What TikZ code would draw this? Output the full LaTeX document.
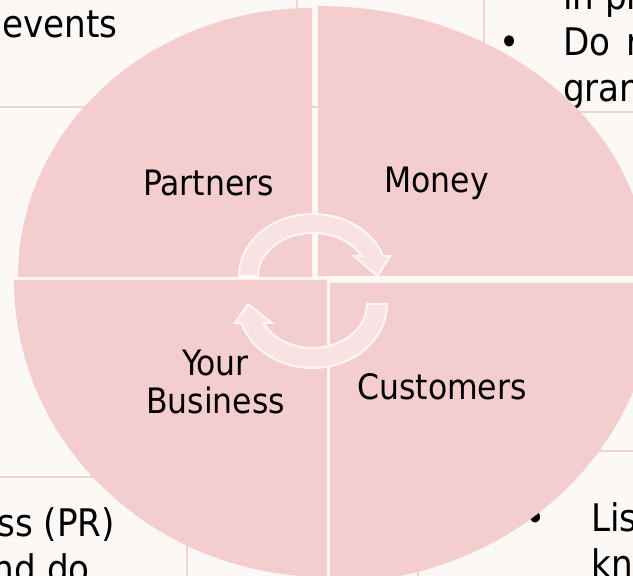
\documentclass[tikz,border=0pt]{standalone}
\usepackage{fontspec}
\newfontfamily\dvc{DejaVu Sans Condensed}
\definecolor{bgc}{RGB}{252,248,245}
\definecolor{piec}{RGB}{244,205,207}
\definecolor{arrc}{RGB}{248,226,228}
\definecolor{arrl}{RGB}{253,246,243}
\definecolor{gridc}{RGB}{243,210,210}
\tikzset{
  pie/.style={fill=piec},
  cyc/.style={fill=arrc, draw=arrl, line width=2pt, line join=miter},
  gridline/.style={draw=gridc, line width=2pt},
  lbl/.style={font=\dvc\fontsize{35}{38}\selectfont, text=black, inner sep=0pt, align=center},
  body/.style={font=\dvc\fontsize{38}{46}\selectfont, text=black, inner sep=0pt}
}
\begin{document}
\begin{tikzpicture}[x=1pt,y=1pt]
\useasboundingbox (0,0) rectangle (633,576);
\fill[bgc] (0,0) rectangle (633,576);
\clip (0,0) rectangle (633,576);
% background table lines
\draw[gridline] (0,469) -- (320,469);
\draw[gridline] (297,576) -- (297,540);
\draw[gridline] (484,576) -- (484,500);
\draw[gridline] (540,464) -- (633,464);
\draw[gridline] (0,99) -- (160,99);
\draw[gridline] (187,60) -- (187,0);
\draw[gridline] (540,125) -- (633,125);
\draw[gridline] (418,40) -- (418,0);
% background texts
\node[body, anchor=base west] (ev) at (2,538) {events};
\node[body, anchor=base west] (inp) at (563,566) {in pr};
\node[body, anchor=base] (b1) at (510,520) {•};
\node[body, anchor=base west] (dor) at (563,520) {Do\hspace{5pt} r};
\node[body, anchor=base west] (gran) at (563,474) {gran};
\node[body, anchor=base west] (pr) at (-3,39) {ss (PR)};
\node[body, anchor=base east] (nddo) at (90,-7) {nd do};
\node[body, anchor=base] (b2) at (536,44) {•};
\node[body, anchor=base west] (lis) at (591,44) {Lis};
\node[body, anchor=base west] (kn) at (591,-2) {kn};
% pie pieces
\fill[pie] (312,299) -- ++(-294,0) arc[start angle=180, end angle=90, x radius=294, y radius=269] -- cycle;
\fill[pie] (318,300) -- ++(0,270) arc[start angle=90, end angle=0, x radius=330, y radius=270] -- cycle;
\fill[pie] (327,296) -- ++(-313,0) arc[start angle=180, end angle=270, x radius=313, y radius=297] -- cycle;
\fill[pie] (330,293) -- ++(325,0) arc[start angle=0, end angle=-90, x radius=325, y radius=300] -- cycle;
% cycle arrows
\draw[cyc] (239,300) arc[start angle=180, end angle=18.8, x radius=74, y radius=62]
  -- (390,320) -- (377.5,300) -- (354,320) -- (361.7,320)
  arc[start angle=27.7, end angle=180, x radius=55, y radius=43] -- cycle;
\draw[cyc] (387,272) arc[start angle=0, end angle=-162.7, x radius=74.5, y radius=64]
  -- (235,253) -- (248,272) -- (272,253) -- (263.3,253)
  arc[start angle=-154.4, end angle=0, x radius=54.5, y radius=44] -- cycle;
% labels
\node[lbl, anchor=base] (partners) at (208.5,380) {Partners};
\node[lbl, anchor=base] (money) at (436.5,383) {Money};
\node[lbl, anchor=base] (yourbiz) at (215.5,162) {Your\\Business};
\node[lbl, anchor=base] (customers) at (442,176) {Customers};
\end{tikzpicture}
\end{document}
